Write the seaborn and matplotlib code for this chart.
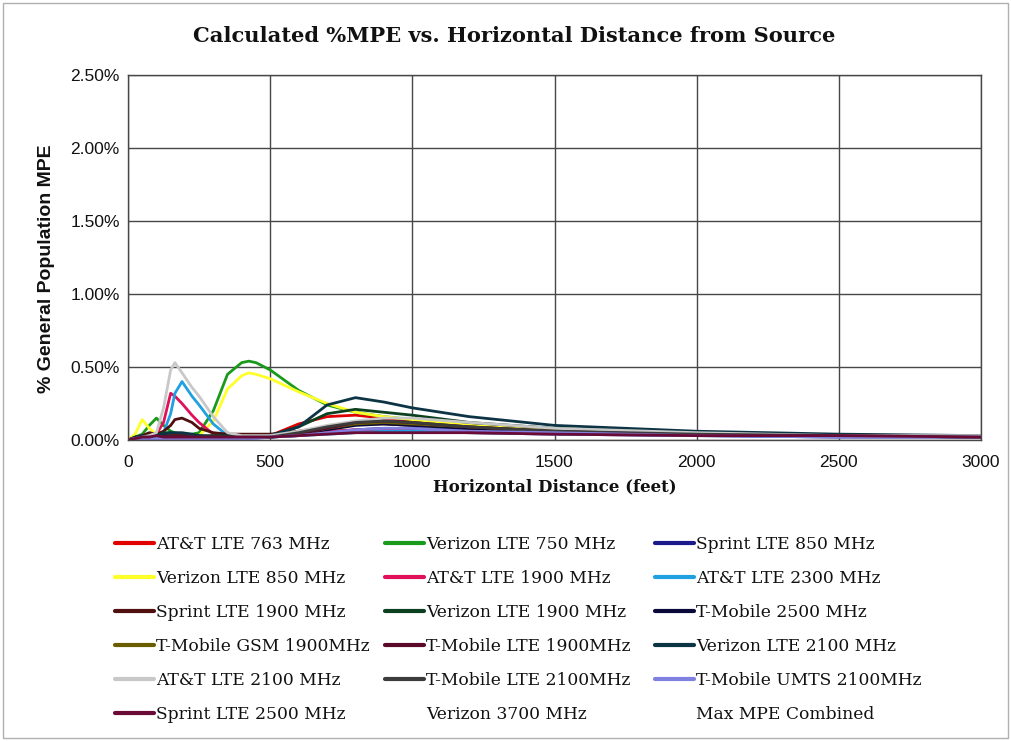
import numpy as np
import pandas as pd
import matplotlib
matplotlib.use("Agg")
import matplotlib.pyplot as plt
from matplotlib.lines import Line2D
from matplotlib.patches import Rectangle
from matplotlib.ticker import FuncFormatter
import seaborn as sns

# ---------------- data ----------------
distance_ft = [0, 25, 50, 75, 100, 125, 150, 165, 190, 225, 250, 300, 350, 400, 425,
               450, 500, 600, 700, 800, 900, 1000, 1200, 1500, 2000, 2500, 3000]

att_lte_763 = [0.00, 0.00, 0.01, 0.01, 0.01, 0.01, 0.01, 0.01, 0.01, 0.01, 0.01, 0.01, 0.01, 0.01, 0.01,
               0.02, 0.03, 0.11, 0.16, 0.17, 0.15, 0.13, 0.10, 0.07, 0.04, 0.03, 0.03]
vz_lte_750 = [0.00, 0.02, 0.04, 0.10, 0.15, 0.10, 0.06, 0.05, 0.04, 0.04, 0.05, 0.20, 0.45, 0.53, 0.54,
              0.53, 0.48, 0.34, 0.24, 0.19, 0.16, 0.14, 0.10, 0.07, 0.05, 0.03, 0.03]
sprint_lte_850 = [0.00, 0.01, 0.01, 0.01, 0.01, 0.02, 0.02, 0.02, 0.02, 0.02, 0.02, 0.02, 0.02, 0.02, 0.02,
                  0.02, 0.02, 0.03, 0.05, 0.07, 0.08, 0.08, 0.07, 0.05, 0.04, 0.03, 0.02]
vz_lte_850 = [0.00, 0.04, 0.14, 0.08, 0.04, 0.03, 0.02, 0.02, 0.02, 0.02, 0.03, 0.13, 0.35, 0.44, 0.46,
              0.45, 0.42, 0.33, 0.25, 0.19, 0.16, 0.14, 0.10, 0.07, 0.05, 0.03, 0.03]
att_lte_1900 = [0.00, 0.01, 0.02, 0.02, 0.04, 0.12, 0.32, 0.30, 0.25, 0.17, 0.12, 0.04, 0.03, 0.03, 0.03,
                0.03, 0.03, 0.04, 0.06, 0.07, 0.07, 0.06, 0.05, 0.04, 0.03, 0.02, 0.02]
att_lte_2300 = [0.00, 0.00, 0.01, 0.02, 0.03, 0.05, 0.18, 0.32, 0.40, 0.30, 0.24, 0.11, 0.03, 0.02, 0.02,
                0.02, 0.02, 0.03, 0.04, 0.05, 0.06, 0.06, 0.05, 0.04, 0.03, 0.02, 0.02]
sprint_lte_1900 = [0.00, 0.02, 0.03, 0.05, 0.04, 0.06, 0.10, 0.14, 0.15, 0.12, 0.08, 0.05, 0.04, 0.04, 0.04,
                   0.04, 0.04, 0.06, 0.09, 0.11, 0.11, 0.10, 0.08, 0.05, 0.04, 0.03, 0.02]
vz_lte_1900 = [0.00, 0.01, 0.02, 0.02, 0.03, 0.05, 0.05, 0.04, 0.04, 0.03, 0.03, 0.03, 0.03, 0.02, 0.02,
               0.02, 0.03, 0.09, 0.18, 0.21, 0.19, 0.17, 0.12, 0.08, 0.05, 0.03, 0.03]
tmo_2500 = [0.00, 0.01, 0.01, 0.02, 0.02, 0.02, 0.02, 0.02, 0.02, 0.02, 0.02, 0.02, 0.02, 0.02, 0.02,
            0.02, 0.02, 0.04, 0.07, 0.10, 0.11, 0.10, 0.08, 0.05, 0.04, 0.03, 0.02]
tmo_gsm_1900 = [0.00, 0.01, 0.02, 0.03, 0.03, 0.03, 0.03, 0.03, 0.03, 0.02, 0.02, 0.02, 0.02, 0.02, 0.02,
                0.02, 0.02, 0.04, 0.08, 0.11, 0.12, 0.11, 0.09, 0.06, 0.04, 0.03, 0.02]
tmo_lte_1900 = [0.00, 0.01, 0.02, 0.03, 0.03, 0.03, 0.03, 0.03, 0.03, 0.02, 0.02, 0.02, 0.02, 0.02, 0.02,
                0.02, 0.02, 0.04, 0.08, 0.12, 0.13, 0.12, 0.09, 0.06, 0.04, 0.03, 0.02]
vz_lte_2100 = [0.00, 0.02, 0.03, 0.02, 0.03, 0.04, 0.05, 0.05, 0.05, 0.04, 0.03, 0.02, 0.02, 0.02, 0.02,
               0.02, 0.03, 0.09, 0.24, 0.29, 0.26, 0.22, 0.16, 0.10, 0.06, 0.04, 0.03]
att_lte_2100 = [0.00, 0.01, 0.02, 0.03, 0.05, 0.22, 0.48, 0.53, 0.46, 0.36, 0.30, 0.16, 0.05, 0.03, 0.03,
                0.03, 0.03, 0.06, 0.10, 0.13, 0.15, 0.15, 0.12, 0.08, 0.05, 0.03, 0.03]
tmo_lte_2100 = [0.00, 0.01, 0.02, 0.02, 0.02, 0.02, 0.02, 0.02, 0.02, 0.02, 0.02, 0.02, 0.02, 0.02, 0.02,
                0.02, 0.02, 0.05, 0.09, 0.12, 0.13, 0.12, 0.09, 0.06, 0.04, 0.03, 0.02]
tmo_umts_2100 = [0.00, 0.01, 0.01, 0.01, 0.01, 0.01, 0.01, 0.01, 0.01, 0.01, 0.01, 0.01, 0.01, 0.01, 0.01,
                 0.01, 0.02, 0.03, 0.05, 0.07, 0.08, 0.08, 0.06, 0.05, 0.03, 0.02, 0.02]
sprint_lte_2500 = [0.00, 0.01, 0.02, 0.02, 0.03, 0.02, 0.02, 0.02, 0.02, 0.02, 0.02, 0.02, 0.02, 0.02, 0.02,
                   0.02, 0.02, 0.03, 0.04, 0.05, 0.05, 0.05, 0.05, 0.04, 0.03, 0.03, 0.02]

series_names = ["AT&T LTE 763 MHz", "Verizon LTE 750 MHz", "Sprint LTE 850 MHz",
                "Verizon LTE 850 MHz", "AT&T LTE 1900 MHz", "AT&T LTE 2300 MHz",
                "Sprint LTE 1900 MHz", "Verizon LTE 1900 MHz", "T-Mobile 2500 MHz",
                "T-Mobile GSM 1900MHz", "T-Mobile LTE 1900MHz", "Verizon LTE 2100 MHz",
                "AT&T LTE 2100 MHz", "T-Mobile LTE 2100MHz", "T-Mobile UMTS 2100MHz",
                "Sprint LTE 2500 MHz", "Verizon 3700 MHz", "Max MPE Combined"]
series_values = [att_lte_763, vz_lte_750, sprint_lte_850, vz_lte_850, att_lte_1900, att_lte_2300,
                 sprint_lte_1900, vz_lte_1900, tmo_2500, tmo_gsm_1900, tmo_lte_1900, vz_lte_2100,
                 att_lte_2100, tmo_lte_2100, tmo_umts_2100, sprint_lte_2500, None, None]
series_colors = ["#e00000", "#1a9a1a", "#1a1a8a", "#ffff2a", "#e0105a", "#20a0e0",
                 "#501010", "#0c4020", "#0a0a3a", "#6b5e00", "#5a0a28", "#0c3444",
                 "#c8c8c8", "#3c3c3c", "#8080e0", "#6a0a36", "none", "none"]

x_ticks = [0, 500, 1000, 1500, 2000, 2500, 3000]
y_ticks = [0.0, 0.5, 1.0, 1.5, 2.0, 2.5]

# ---------------- build long-form frame ----------------
rows = []
for name, vals in zip(series_names, series_values):
    if vals is None:
        continue
    for d, v in zip(distance_ft, vals):
        rows.append({"Distance": d, "MPE": v, "Series": name})
df = pd.DataFrame(rows)
drawn = [n for n, v in zip(series_names, series_values) if v is not None]
palette = {n: c for n, c in zip(series_names, series_colors) if n in drawn}

# ---------------- figure ----------------
sns.set_style("white")
W, H = 1011, 741
fig = plt.figure(figsize=(W / 100, H / 100), dpi=100)
ax = fig.add_axes([128 / W, 1 - 440 / H, (981 - 128) / W, (440 - 75) / H])

sns.lineplot(data=df, x="Distance", y="MPE", hue="Series", hue_order=drawn,
             palette=palette, estimator=None, sort=False, linewidth=2.0,
             legend=False, ax=ax)

ax.set_xlim(0, 3000)
ax.set_ylim(0, 2.5)
ax.set_xticks(x_ticks)
ax.set_yticks(y_ticks)
ax.yaxis.set_major_formatter(FuncFormatter(lambda v, p: f"{v:.2f}%"))
ax.grid(True, color="#474747", linewidth=1.0)
ax.set_axisbelow(True)
for s in ax.spines.values():
    s.set_color("#474747")
    s.set_linewidth(1.0)
ax.tick_params(axis="both", length=0, labelsize=12.5, labelcolor="#111111")
ax.tick_params(axis="x", pad=11)
ax.tick_params(axis="y", pad=6)
for lbl in ax.get_xticklabels() + ax.get_yticklabels():
    lbl.set_family("Liberation Sans")

serif = "DejaVu Serif"
ax.set_xlabel("Horizontal Distance (feet)", family=serif, weight="bold", fontsize=12.0,
              labelpad=6, color="#111111")
ax.set_ylabel("% General Population MPE", family="Liberation Sans", weight="bold", fontsize=14.0,
              color="#111111")
ax.yaxis.set_label_coords(-73 / 853, 0.47)
fig.text(514 / W, 1 - 36 / H, "Calculated %MPE vs. Horizontal Distance from Source",
         family=serif, weight="bold", fontsize=15.1, ha="center", va="center", color="#111111")

# ---------------- legend: three columns, row-major ----------------
col_x = [115, 385, 655]
for c in range(3):
    idx = list(range(c, len(series_names), 3))
    handles = [Line2D([], [], color=series_colors[i], linewidth=3.0) for i in idx]
    labels = [series_names[i] for i in idx]
    fig.legend(handles, labels, loc="upper left",
               bbox_to_anchor=(col_x[c] / W, 1 - 536 / H),
               frameon=False, prop={"family": serif, "size": 12.3},
               handlelength=2.3, handletextpad=0.1, labelspacing=0.99,
               borderpad=0, borderaxespad=0, labelcolor="#111111")

# outer chart border
fig.patches.append(Rectangle((3 / W, 3 / H), 1 - 6 / W, 1 - 6 / H, transform=fig.transFigure,
                             fill=False, edgecolor="#b0b0b0", linewidth=1.0))

fig.savefig("out.png", dpi=100)
